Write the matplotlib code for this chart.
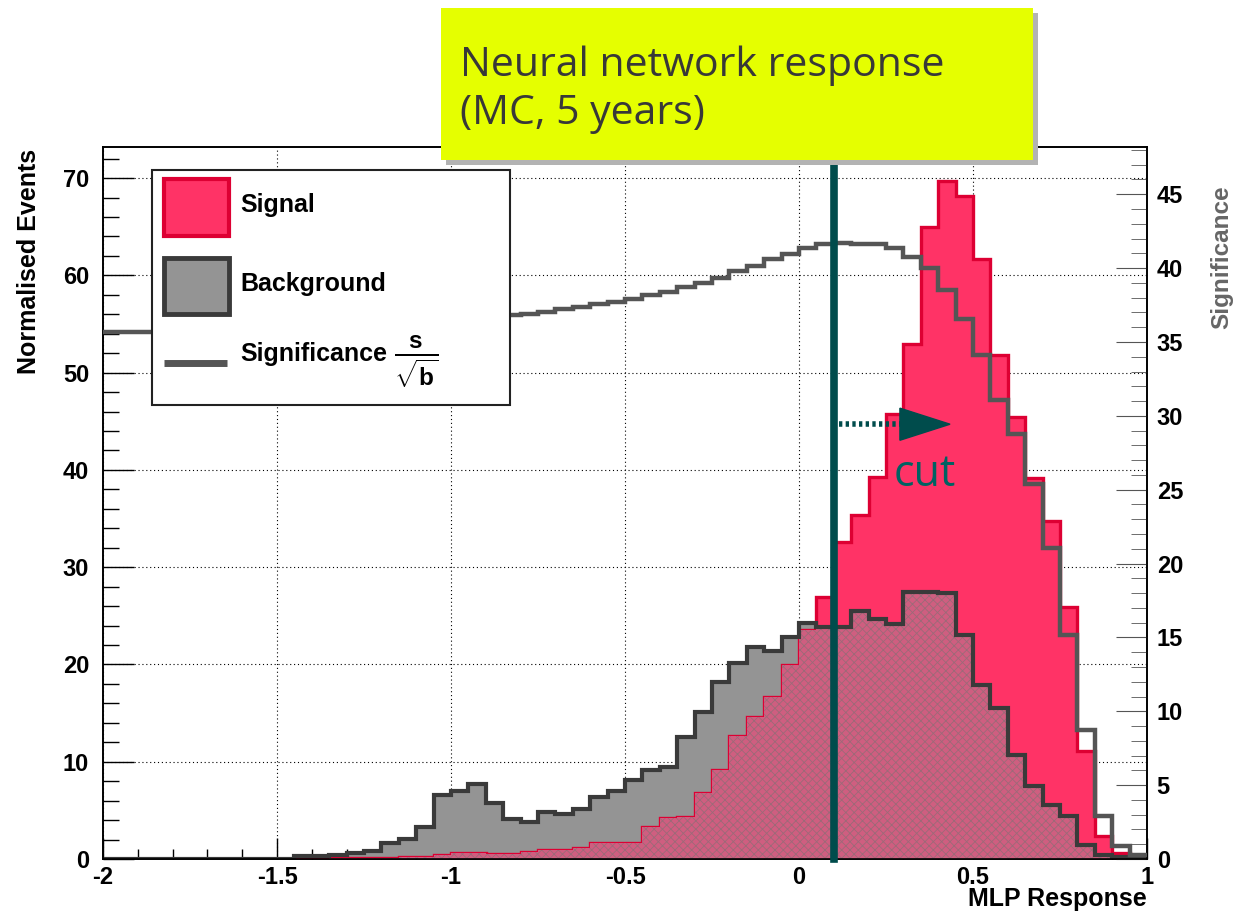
import numpy as np
import matplotlib
matplotlib.use('Agg')
import matplotlib.pyplot as plt
from matplotlib.patches import Rectangle, Polygon
from matplotlib.lines import Line2D
from matplotlib.ticker import MultipleLocator, FuncFormatter

# MLP response binning: 60 bins of 0.05 between -2 and 1
edges = np.round(np.linspace(-2.0, 1.0, 61), 2)

signal = [
    0, 0, 0, 0, 0, 0, 0, 0, 0, 0,
    0, 0.05, 0.05, 0.08, 0.1, 0.1, 0.15, 0.2, 0.25, 0.4,
    0.6, 0.6, 0.5, 0.55, 0.7, 0.9, 0.9, 1.1, 1.6, 1.6,
    1.6, 3.3, 4.2, 4.35, 6.75, 9.15, 12.6, 14.6, 16.7, 19.9,
    23.5, 26.9, 32.6, 35.4, 39.3, 45.8, 52.9, 65.0, 69.7, 68.2,
    61.7, 51.8, 45.4, 39.15, 34.7, 25.9, 11.1, 2.4, 0.65, 0.2,
]
background = [
    0, 0, 0, 0, 0, 0, 0, 0, 0, 0,
    0.05, 0.33, 0.33, 0.45, 0.64, 0.85, 1.6, 2.1, 3.3, 6.6,
    7.0, 7.7, 5.8, 4.1, 3.8, 4.8, 4.6, 5.1, 6.4, 7.0,
    8.1, 9.2, 9.5, 12.5, 15.15, 18.2, 20.2, 21.8, 21.4, 22.8,
    24.3, 23.9, 23.9, 25.5, 24.65, 24.2, 27.5, 27.5, 27.3, 23.0,
    17.9, 15.5, 10.7, 7.5, 5.55, 4.4, 1.45, 0.4, 0.2, 0.1,
]
# s/sqrt(b) for a cut at each bin
significance = [
    35.66, 35.66, 35.66, 35.66, 35.66, 35.66, 35.66, 35.66, 35.66, 35.66,
    35.66, 35.68, 35.70, 35.72, 35.76, 35.82, 35.90, 36.00, 36.10, 36.25,
    36.40, 36.55, 36.70, 36.80, 36.88, 37.01, 37.20, 37.38, 37.56, 37.74,
    37.92, 38.15, 38.38, 38.69, 38.96, 39.30, 39.81, 40.13, 40.59, 40.94,
    41.33, 41.62, 41.71, 41.62, 41.62, 41.33, 40.73, 39.98, 38.51, 36.59,
    34.11, 31.04, 28.80, 25.42, 21.02, 15.15, 8.73, 2.91, 0.88, 0.27,
]
cut_value = 0.1

plt.rcParams['font.family'] = ['Liberation Sans', 'DejaVu Sans']
plt.rcParams['font.weight'] = 'bold'
plt.rcParams['axes.unicode_minus'] = False
plt.rcParams['mathtext.fontset'] = 'custom'
plt.rcParams['mathtext.rm'] = 'Liberation Sans:bold'
plt.rcParams['mathtext.bf'] = 'Liberation Sans:bold'
plt.rcParams['hatch.linewidth'] = 0.6

W, H = 1240, 913
fig = plt.figure(figsize=(W / 100, H / 100), dpi=100)


def fx(x):
    return x / W


def fy(y):
    return 1 - y / H


ax = fig.add_axes([fx(103), fy(859), (1147 - 103) / W, (859 - 147) / H])
ax.set_xlim(-2, 1)
ax.set_ylim(0, 73.2)

sig_col = '#ff3366'
bkg_col = '#949494'
cut_col = '#004c4c'

overlap = np.minimum(signal, background)
ax.stairs(background, edges, fill=True, color=bkg_col, zorder=1)
ax.stairs(signal, edges, fill=True, color=sig_col, zorder=2)
ax.stairs(signal, edges, color='#dd0033', lw=2.4, zorder=3)
ax.stairs(overlap, edges, fill=True, facecolor='#cf5e80', edgecolor='#9c6a78',
          hatch='xxxx', lw=0, zorder=4)
ax.stairs(background, edges, color='#3a3a3a', lw=3, zorder=5)

ax.set_axisbelow(True)
ax.grid(True, which='major', color='k', lw=0.8, linestyle=(0, (1, 2.5)))

ax.xaxis.set_major_locator(MultipleLocator(0.5))
ax.xaxis.set_minor_locator(MultipleLocator(0.1))
ax.yaxis.set_major_locator(MultipleLocator(10))
ax.yaxis.set_minor_locator(MultipleLocator(2))
ax.xaxis.set_major_formatter(FuncFormatter(lambda v, p: '%g' % v))
ax.tick_params(which='both', direction='in', top=False, right=False,
               labelsize=17, width=1)
ax.tick_params(axis='y', which='major', length=22, pad=10)
ax.tick_params(axis='y', which='minor', length=11.5)
ax.tick_params(axis='x', which='major', length=15, pad=5)
ax.tick_params(axis='x', which='minor', length=7.5)
for s in ax.spines.values():
    s.set_linewidth(1.2)

# the cut arrow and label
ax.plot([0.115, 0.29], [44.7, 44.7], color=cut_col, lw=4,
        linestyle=(0, (0.6, 0.6)), solid_capstyle='butt', zorder=7)
ax.add_patch(Polygon([[0.29, 46.35], [0.29, 43.05], [0.434, 44.7]],
                     closed=True, color=cut_col, zorder=7))
ax.text(0.362, 38.3, 'cut', family='Open Sans', weight='normal',
        fontsize=31, color='#006262', ha='center', va='baseline', zorder=8)

# significance on its own scale
ax2 = ax.twinx()
ax2.set_ylim(0, 48.2)
ax2.stairs(significance, edges, color='#555555', lw=3.2, baseline=None, zorder=3)
ax2.axvline(cut_value, ymin=0, ymax=1.05, color=cut_col, lw=5.5,
            clip_on=False, zorder=6)
ax2.yaxis.set_major_locator(MultipleLocator(5))
ax2.yaxis.set_minor_locator(MultipleLocator(1))
ax2.tick_params(axis='y', which='both', direction='in', color='#555555',
                labelsize=17, pad=7)
ax2.tick_params(axis='y', which='major', length=22)
ax2.tick_params(axis='y', which='minor', length=11.5)
for s in ax2.spines.values():
    s.set_linewidth(1.2)

# axis titles
fig.text(fx(29), fy(149), 'Normalised Events', rotation=90, fontsize=18,
         ha='center', va='top')
fig.text(fx(1222), fy(185), 'Significance', rotation=90, fontsize=17.5,
         color='#666666', ha='center', va='top')
fig.text(fx(1147), fy(911), 'MLP Response', fontsize=18, ha='right',
         va='bottom')

# legend
fig.patches.append(Rectangle((fx(152), fy(405)), fx(510) - fx(152),
                             fy(170) - fy(405), transform=fig.transFigure,
                             facecolor='white', edgecolor='#222222', lw=1.5,
                             zorder=5))
fig.patches.append(Rectangle((fx(164), fy(236)), fx(229) - fx(164),
                             fy(179) - fy(236), transform=fig.transFigure,
                             facecolor=sig_col, edgecolor='#dd0033', lw=3,
                             zorder=6))
fig.patches.append(Rectangle((fx(164), fy(314)), fx(229) - fx(164),
                             fy(258) - fy(314), transform=fig.transFigure,
                             facecolor=bkg_col, edgecolor='#3a3a3a', lw=3.5,
                             zorder=6))
fig.lines.append(Line2D([fx(164), fx(227)], [fy(363), fy(363)],
                        transform=fig.transFigure, color='#555555', lw=5,
                        solid_capstyle='butt', zorder=6))
fig.text(fx(240), fy(205), 'Signal', fontsize=18, va='center', zorder=7)
fig.text(fx(240), fy(284), 'Background', fontsize=18, va='center', zorder=7)
fig.text(fx(240), fy(354), 'Significance', fontsize=18, va='center', zorder=7)
fig.text(fx(394), fy(362), r'$\mathbf{\frac{s}{\sqrt{b}}}$', fontsize=25,
         va='center', zorder=7)

# title box
fig.patches.append(Rectangle((fx(446), fy(165)), fx(1033) - fx(441),
                             fy(8) - fy(160), transform=fig.transFigure,
                             facecolor='#b3b3b3', lw=0, zorder=8))
fig.patches.append(Rectangle((fx(441), fy(160)), fx(1033) - fx(441),
                             fy(8) - fy(160), transform=fig.transFigure,
                             facecolor='#e5ff00', lw=0, zorder=9))
fig.text(fx(460), fy(76), 'Neural network response', family='Open Sans',
         weight='normal', fontsize=29.5, color='#383838', va='baseline', zorder=10)
fig.text(fx(460), fy(124), '(MC, 5 years)', family='Open Sans',
         weight='normal', fontsize=29.5, color='#383838', va='baseline', zorder=10)

fig.savefig('out.png', dpi=100)
